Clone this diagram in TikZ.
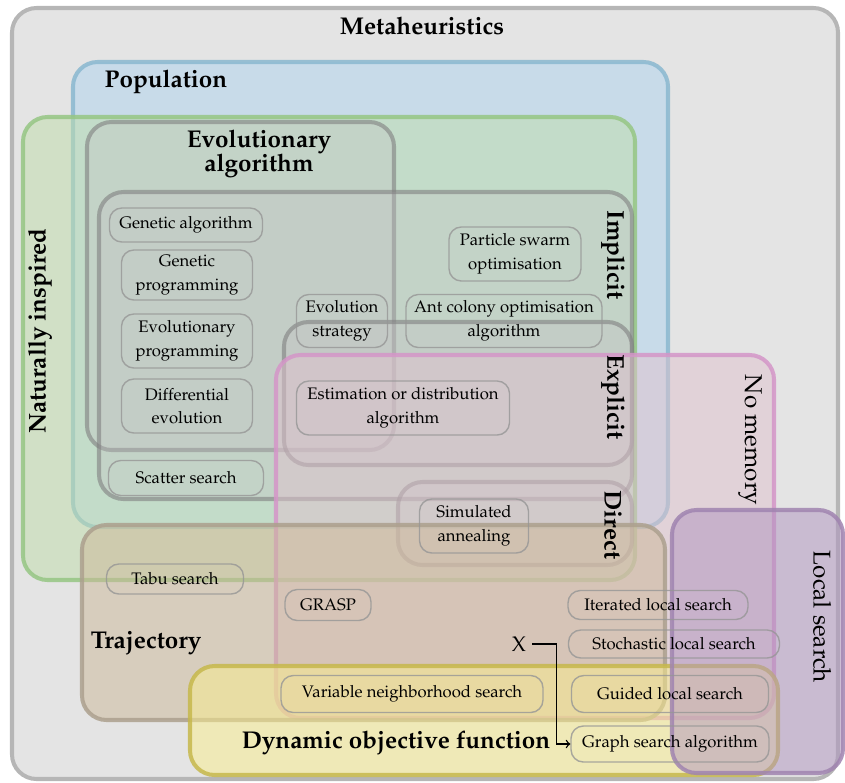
\documentclass[tikz,border=0pt]{standalone}
\usepackage[T1]{fontenc}
\renewcommand{\rmdefault}{ppl}
\usepackage{xcolor}
\usepackage{tikz}

\definecolor{metafill}{RGB}{228,228,228}
\definecolor{metaline}{RGB}{182,182,182}
\definecolor{popfill}{RGB}{174,212,238}
\definecolor{popline}{RGB}{138,184,208}
\definecolor{natfill}{RGB}{192,222,170}
\definecolor{natline}{RGB}{150,198,132}
\definecolor{evofill}{RGB}{196,192,196}
\definecolor{evoline}{RGB}{128,128,128}
\definecolor{memfill}{RGB}{224,194,206}
\definecolor{memline}{RGB}{212,150,200}
\definecolor{trajfill}{RGB}{204,184,152}
\definecolor{trajline}{RGB}{172,160,142}
\definecolor{dynfill}{RGB}{250,238,140}
\definecolor{dynline}{RGB}{198,184,76}
\definecolor{locfill}{RGB}{176,148,192}
\definecolor{locline}{RGB}{160,132,176}
\definecolor{algoline}{RGB}{150,150,150}
\newcommand{\algofont}{\fontsize{9.5}{13.5}\selectfont}
\newcommand{\labfont}{\fontsize{13.8}{14}\selectfont}

\begin{document}
\begin{tikzpicture}[x=0.02cm,y=-0.02cm,
    region/.style={line width=2.3pt, rounded corners=14pt, fill opacity=0.5, draw opacity=0.85},
    groupbox/.style={region, draw=evoline, fill=evofill, fill opacity=0.3, draw opacity=0.6},
    algo/.style={draw=algoline, draw opacity=0.8, line width=0.8pt, rounded corners=7pt,
      align=center, inner sep=1pt, font=\algofont},
    title/.style={font=\labfont\bfseries, align=center},
    side/.style={font=\labfont}]
  \useasboundingbox (0,0) rectangle (845,782);

  % Regions
  \draw[line width=2.3pt, rounded corners=14pt, draw=metaline, fill=metafill] (12,8) rectangle (838,779);
  \draw[region, draw=popline, fill=popfill] (73,62) rectangle (668,527);
  \draw[region, draw=natline, fill=natfill] (23,117) rectangle (635,580);
  \draw[groupbox] (87,122) rectangle (394,450);
  \draw[groupbox] (99,192) rectangle (632,499);
  \draw[groupbox] (284,322) rectangle (632,465);
  \draw[groupbox] (398,482) rectangle (632,565);
  \draw[region, draw=memline, fill=memfill] (276,355) rectangle (774,718);
  \draw[region, draw=trajline, fill=trajfill] (82,525) rectangle (665,720);
  \draw[region, draw=dynline, fill=dynfill] (190,666) rectangle (778,775);
  \draw[region, draw=locline, fill=locfill] (672,510) rectangle (843,773);

  % Region labels
  \node[title] (meta) at (422,26) {Metaheuristics};
  \node[title] (pop) at (166,82) {Population};
  \node[title] (evo) at (259,154) {Evolutionary\\algorithm};
  \node[title, rotate=90] (nat) at (40,331) {Naturally inspired};
  \node[title, rotate=-90] (impl) at (613,255) {Implicit};
  \node[title, rotate=-90] (expl) at (613,397) {Explicit};
  \node[title, rotate=-90] (dir) at (613,525) {Direct};
  \node[side, rotate=-90] (nomem) at (750,440) {No memory};
  \node[side, rotate=-90] (local) at (822,617) {Local search};
  \node[title] (traj) at (146,643) {Trajectory};
  \node[title] (dyn) at (396,743) {Dynamic objective function};

  % Algorithms
  \node[algo, minimum width=3.06cm, minimum height=0.68cm] (ga) at (186,225) {Genetic algorithm};
  \node[algo, minimum width=2.62cm, minimum height=1.0cm] (gp) at (187,275) {Genetic\\programming};
  \node[algo, minimum width=2.62cm, minimum height=1.08cm] (ep) at (187,341) {Evolutionary\\programming};
  \node[algo, minimum width=2.62cm, minimum height=1.08cm] (de) at (187,406) {Differential\\evolution};
  \node[algo, minimum width=3.1cm, minimum height=0.7cm] (ss) at (186,478) {Scatter search};
  \node[algo, minimum width=1.82cm, minimum height=1.06cm] (es) at (342,321) {Evolution\\strategy};
  \node[algo, minimum width=2.64cm, minimum height=1.08cm] (pso) at (515,254) {Particle swarm\\optimisation};
  \node[algo, minimum width=3.92cm, minimum height=1.06cm] (aco) at (504,321) {Ant colony optimisation\\algorithm};
  \node[algo, minimum width=4.26cm, minimum height=1.08cm] (eda) at (403,408) {Estimation or distribution\\algorithm};
  \node[algo, minimum width=2.18cm, minimum height=1.08cm] (sa) at (474,526) {Simulated\\annealing};
  \node[algo, minimum width=2.74cm, minimum height=0.6cm] (tabu) at (175,579) {Tabu search};
  \node[algo, minimum width=1.72cm, minimum height=0.62cm] (grasp) at (328,605) {GRASP};
  \node[algo, minimum width=5.24cm, minimum height=0.74cm] (vns) at (412,694) {Variable neighborhood search};
  \node[algo, minimum width=3.6cm, minimum height=0.58cm] (ils) at (658,605) {Iterated local search};
  \node[algo, minimum width=4.22cm, minimum height=0.56cm] (sls) at (674,644) {Stochastic local search};
  \node[algo, minimum width=3.94cm, minimum height=0.74cm] (gls) at (670,694) {Guided local search};
  \node[algo, minimum width=3.96cm, minimum height=0.72cm] (gsa) at (670,744) {Graph search algorithm};

  % X marker
  \node[font=\large] (x) at (519,644) {X};
  \draw[->, line width=0.8pt] (x.east) -- +(24,0) |- (gsa.west);
\end{tikzpicture}
\end{document}
